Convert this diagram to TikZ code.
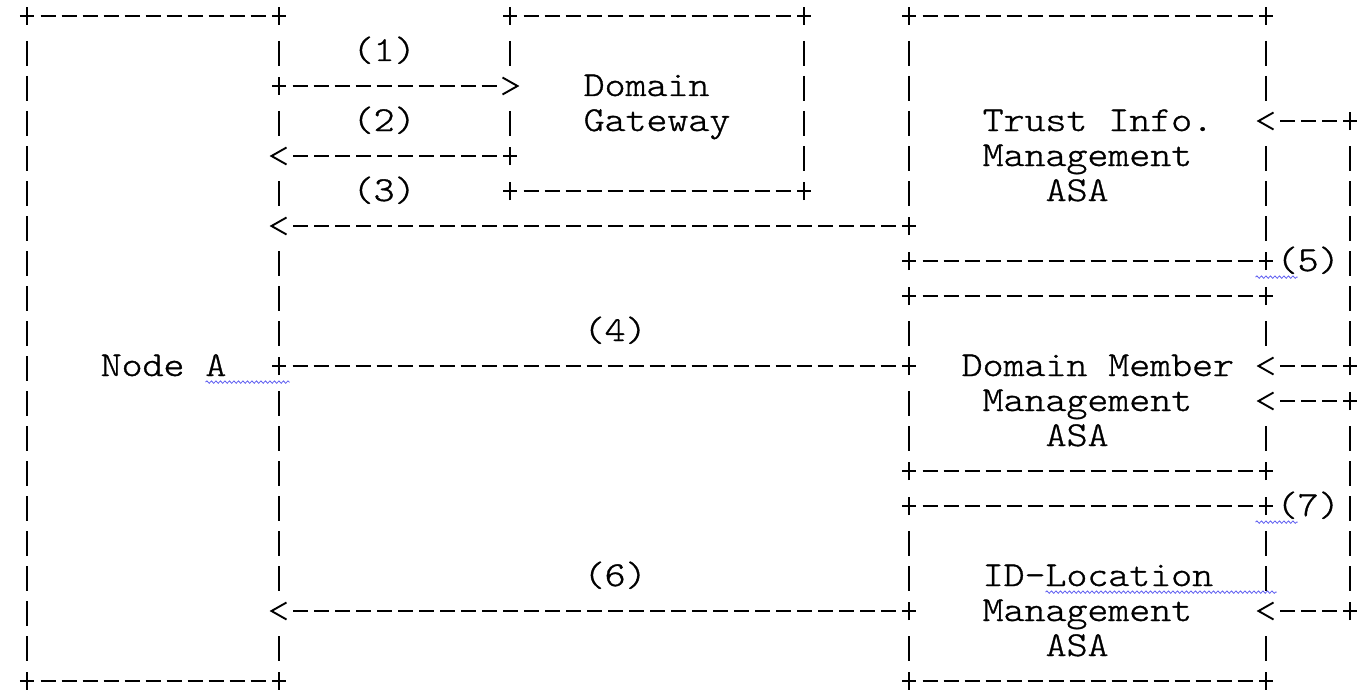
\documentclass[tikz,border=0pt]{standalone}
\usepackage{fontspec}
\newfontfamily\asciifont{lmmonolt10-regular.otf}[FakeStretch=1.14, FakeBold=1]
\usetikzlibrary{decorations.pathmorphing}
\definecolor{spellBlue}{HTML}{5C5CF0}
\tikzset{
  glyph/.style={line width=1.9pt, draw=black},
  hseg/.style={glyph, dash pattern=on 15pt off 6pt, shorten <=13.5pt, shorten >=13.5pt},
  vseg/.style={glyph, dash pattern=on 25pt off 10pt, shorten <=25pt, shorten >=20pt},
  txt/.style={anchor=base west, inner sep=0pt, xshift=-10.5pt, yshift=-10pt,
    font=\asciifont\fontsize{35}{35}\selectfont},
  squiggle/.style={draw=spellBlue, line width=0.8pt, decorate,
    decoration={snake, amplitude=1.2pt, segment length=4.5pt}},
  cross/.pic={\draw[glyph] (-7pt,0pt) -- (7pt,0pt) (0pt,-9pt) -- (0pt,9pt);},
  lt/.pic={\draw[glyph] (7.5pt,8.5pt) -- (-7.5pt,0pt) -- (7.5pt,-8.5pt);},
  gt/.pic={\draw[glyph] (-7.5pt,8.5pt) -- (7.5pt,0pt) -- (-7.5pt,-8.5pt);},
}
\begin{document}
\begin{tikzpicture}[x=21pt, y=-35pt]
  \useasboundingbox (-1.2857,-0.4571) rectangle (63.857,19.229);

  % ---- Node A --------------------------------------------------------------
  \node[txt] (nodeA) at (4,10) {Node A};
  \draw[hseg] (0,0) -- (12,0);
  \draw[hseg] (0,19) -- (12,19);
  \draw[vseg] (0,0) -- (0,19);
  \foreach \a/\b in {0/2,2/4,4/6,6/10,10/17,17/19}
    \draw[vseg] (12,\a) -- (12,\b);
  \foreach \x/\y in {0/0,12/0,0/19,12/19,12/2,12/10}
    \pic at (\x,\y) {cross};

  % ---- Domain Gateway ------------------------------------------------------
  \node[txt] (gwA) at (27,2) {Domain};
  \node[txt] (gwB) at (27,3) {Gateway};
  \draw[hseg] (23,0) -- (37,0);
  \draw[hseg] (23,5) -- (37,5);
  \draw[vseg] (37,0) -- (37,5);
  \foreach \a/\b in {0/2,2/4}
    \draw[vseg] (23,\a) -- (23,\b);
  \foreach \x/\y in {23/0,37/0,23/5,37/5,23/4}
    \pic at (\x,\y) {cross};

  % ---- Trust Info. Management ASA ------------------------------------------
  \node[txt] (tiA) at (46,3) {Trust Info.};
  \node[txt] (tiB) at (46,4) {Management};
  \node[txt] (tiC) at (49,5) {ASA};
  \draw[hseg] (42,0) -- (59,0);
  \draw[hseg] (42,7) -- (59,7);
  \draw[vseg] (42,0) -- (42,6);
  \foreach \a/\b in {0/3,3/7}
    \draw[vseg] (59,\a) -- (59,\b);
  \foreach \x/\y in {42/0,59/0,42/7,59/7,42/6}
    \pic at (\x,\y) {cross};

  % ---- Domain Member Management ASA ----------------------------------------
  \node[txt] (dmA) at (45,10) {Domain Member};
  \node[txt] (dmB) at (46,11) {Management};
  \node[txt] (dmC) at (49,12) {ASA};
  \draw[hseg] (42,8) -- (59,8);
  \draw[hseg] (42,13) -- (59,13);
  \foreach \a/\b in {8/10,10/13}
    \draw[vseg] (42,\a) -- (42,\b);
  \foreach \a/\b in {8/10,11/13}
    \draw[vseg] (59,\a) -- (59,\b);
  \foreach \x/\y in {42/8,59/8,42/13,59/13,42/10}
    \pic at (\x,\y) {cross};

  % ---- ID-Location Management ASA ------------------------------------------
  \node[txt] (ilA) at (46,16) {ID-Location};
  \node[txt] (ilB) at (46,17) {Management};
  \node[txt] (ilC) at (49,18) {ASA};
  \draw[hseg] (42,14) -- (59,14);
  \draw[hseg] (42,19) -- (59,19);
  \foreach \a/\b in {14/17,17/19} {
    \draw[vseg] (42,\a) -- (42,\b);
    \draw[vseg] (59,\a) -- (59,\b);
  }
  \foreach \x/\y in {42/14,59/14,42/19,59/19,42/17}
    \pic at (\x,\y) {cross};

  % ---- ports ---------------------------------------------------------------
  \coordinate (a1) at (12,2);   \coordinate (g1) at (23,2);
  \coordinate (a2) at (12,4);   \coordinate (g2) at (23,4);
  \coordinate (a3) at (12,6);   \coordinate (t3) at (42,6);
  \coordinate (a4) at (12,10);  \coordinate (m4) at (42,10);
  \coordinate (a6) at (12,17);  \coordinate (l6) at (42,17);
  \coordinate (tR) at (59,3);   \coordinate (fb3) at (63,3);
  \coordinate (mR1) at (59,10); \coordinate (fb10) at (63,10);
  \coordinate (mR2) at (59,11); \coordinate (fb11) at (63,11);
  \coordinate (lR) at (59,17);  \coordinate (fb17) at (63,17);

  % ---- messages ------------------------------------------------------------
  \draw[hseg] (a1) -- (g1);  \pic at (g1) {gt};
  \draw[hseg] (g2) -- (a2);  \pic at (a2) {lt};
  \draw[hseg] (t3) -- (a3);  \pic at (a3) {lt};
  \draw[hseg] (a4) -- (m4);
  \draw[hseg] (l6) -- (a6);  \pic at (a6) {lt};

  \draw[vseg] (fb3) -- (fb10);
  \draw[vseg] (fb11) -- (fb17);
  \foreach \s/\t in {fb3/tR,fb10/mR1,fb11/mR2,fb17/lR} {
    \draw[hseg] (\s) -- (\t);
    \pic at (\t) {lt};
    \pic at (\s) {cross};
  }

  \node[txt] (n1) at (16,1) {(1)};
  \node[txt] (n2) at (16,3) {(2)};
  \node[txt] (n3) at (16,5) {(3)};
  \node[txt] (n4) at (27,9) {(4)};
  \node[txt] (n5) at (60,7) {(5)};
  \node[txt] (n6) at (27,16) {(6)};
  \node[txt] (n7) at (60,14) {(7)};

  % spell-check marks
  \draw[squiggle] (8.5,10.46) -- (12.5,10.46);
  \draw[squiggle] (58.5,7.46) -- (60.5,7.46);
  \draw[squiggle] (58.5,14.46) -- (60.5,14.46);
  \draw[squiggle] (48.5,16.46) -- (59.5,16.46);

\end{tikzpicture}
\end{document}
